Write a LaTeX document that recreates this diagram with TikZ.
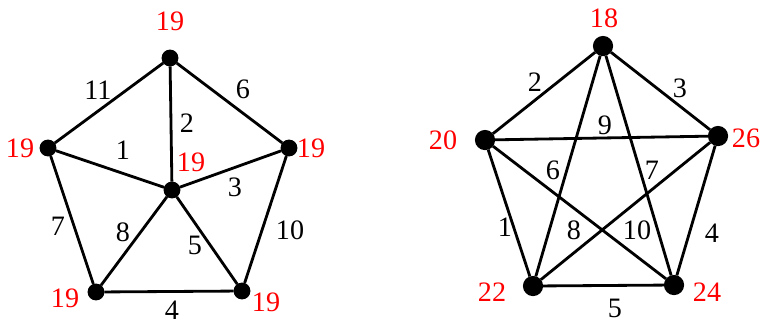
\documentclass[tikz,border=0pt]{standalone}
\usepackage{fontspec}
\setmainfont{Liberation Serif}
\usetikzlibrary{positioning}

\begin{document}
\begin{tikzpicture}[x=0.03cm, y=-0.03cm, line width=2.4pt,
  font=\fontsize{24}{28}\selectfont,
  vtx/.style={draw,fill,circle,inner sep=0pt,minimum size=0.42cm},
  vtxb/.style={vtx,minimum size=0.52cm},
  wt/.style={text=red,inner sep=1pt},
  el/.style={inner sep=1pt}]
  \useasboundingbox (0,0) rectangle (764,324);
  % left graph: wheel on five vertices
  \node[vtx](t) at (170,58){};
  \node[vtx](l) at (48,148){};
  \node[vtx](r) at (289,148){};
  \node[vtx](bl) at (96,292){};
  \node[vtx](br) at (242,291){};
  \node[vtx](c) at (172,190){};
  \draw (t)--(l) (t)--(r) (l)--(bl) (bl)--(br) (br)--(r);
  \draw (c)--(t) (c)--(l) (c)--(r) (c)--(bl) (c)--(br);
  \node[wt](wt) at (170,21){19};
  \node[wt](wl) at (20,148){19};
  \node[wt](wr) at (311,148){19};
  \node[wt](wc) at (191,162){19};
  \node[wt](wbl) at (65,298){19};
  \node[wt](wbr) at (266,302){19};
  \node[el] at (98,90){11};
  \node[el] at (243,89){6};
  \node[el] at (187,123){2};
  \node[el] at (123,150){1};
  \node[el] at (235,187){3};
  \node[el] at (58,226){7};
  \node[el] at (123,232){8};
  \node[el] at (195,245){5};
  \node[el] at (290,230){10};
  \node[el] at (172,310){4};
  % right graph: complete graph on five vertices
  \node[vtxb](kt) at (603,46){};
  \node[vtxb](kl) at (485,140){};
  \node[vtxb](kr) at (718,136){};
  \node[vtxb](kbl) at (533,286){};
  \node[vtxb](kbr) at (674,285){};
  \draw (kl)--(kt) (kt)--(kr) (kl)--(kr) (kt)--(kbl) (kt)--(kbr);
  \draw (kl)--(kbl) (kl)--(kbr) (kr)--(kbl) (kr)--(kbr) (kbl)--(kbr);
  \node[wt](kwt) at (604,18){18};
  \node[wt](kwl) at (443,140){20};
  \node[wt](kwr) at (746,138){26};
  \node[wt](kwbl) at (492,292){22};
  \node[wt](kwbr) at (707,292){24};
  \node[el] at (535,82){2};
  \node[el] at (680,88){3};
  \node[el] at (605,125){9};
  \node[el] at (553,170){6};
  \node[el] at (652,170){7};
  \node[el] at (505,227){1};
  \node[el] at (574,230){8};
  \node[el] at (637,230){10};
  \node[el] at (712,233){4};
  \node[el] at (615,308){5};
\end{tikzpicture}
\end{document}
